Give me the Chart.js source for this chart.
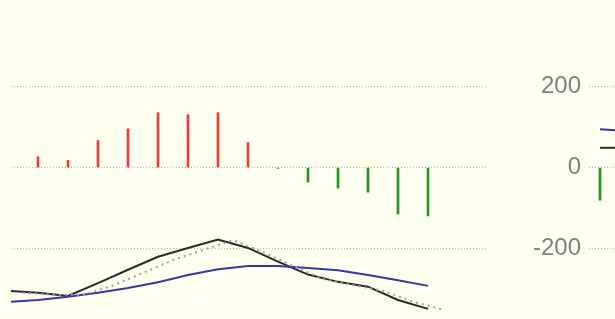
<!DOCTYPE html>
<html>
<head>
<meta charset="utf-8">
<script src="https://cdn.jsdelivr.net/npm/chart.js@4/dist/chart.umd.min.js"></script>
<style>
  html, body { margin: 0; padding: 0; background: #fffff0; }
  #wrap { position: relative; width: 615px; height: 319px; overflow: hidden; }
  #left { position: absolute; left: 0; top: 0; }
  #right { position: absolute; left: 589px; top: 0; }
</style>
</head>
<body>
<div id="wrap">
  <canvas id="left" width="581" height="319"></canvas>
  <canvas id="right" width="26" height="319"></canvas>
</div>
<script>
// histogram bars, index 0..13
const histValues = [27, 18, 67, 96, 136, 131, 136, 62, -2, -36, -51, -61, -115, -120];
// lines, index -1..13
const macdValues = [-305, -310, -318, -286, -253, -221, -199, -178, -199, -233, -265, -283, -295, -328, -350];
const signalValues = [-333, -328, -320, -310, -298, -284, -266, -252, -244, -244, -249, -254, -266, -279, -293];
// dotted line, index -0.5..13.5
const dottedValues = [-310, -315, -315, -292, -261, -229, -204, -180, -209, -244, -276, -291, -305, -332, -352];
const tickLabels = [200, 0, -200];

// second panel
const histValues2 = [-81];
const macdValues2 = [49, 49];
const signalValues2 = [95, 90];

const yMin = -375, yMax = 415;

function pts(values, start) {
    return values.map((v, i) => ({ x: start + i, y: v }));
}

function yAxis(width) {
    return {
        position: 'right',
        display: true,
        min: yMin,
        max: yMax,
        afterBuildTicks: axis => { axis.ticks = tickLabels.map(v => ({ value: v })); },
        afterFit: axis => {
            axis.width = width;
            axis.paddingTop = 0;
            axis.paddingBottom = 0;
        },
        ticks: {
            display: width > 0,
            color: '#808080',
            crossAlign: 'far',
            padding: 0,
            font: { family: 'Liberation Sans', size: 24 }
        },
        grid: { color: '#b4b4b4', lineWidth: 1, drawTicks: false },
        border: { display: false, dash: [1, 2] }
    };
}

function barColors(values) {
    return values.map(v => v >= 0 ? '#f03a3a' : '#22962a');
}

function common(padLeft) {
    return {
        responsive: false,
        animation: false,
        events: [],
        layout: { padding: { left: padLeft, right: 0, top: 0, bottom: 0 } },
        plugins: { legend: { display: false }, tooltip: { enabled: false } }
    };
}

// ================================
// LEFT PANEL
// ================================
new Chart(document.getElementById('left').getContext('2d'), {
    type: 'bar',
    data: {
        datasets: [{
            type: 'line',
            data: pts(dottedValues, -0.5),
            borderColor: '#a0a0a0',
            borderWidth: 2,
            borderDash: [2, 4],
            pointRadius: 0,
            tension: 0
        }, {
            type: 'line',
            data: pts(signalValues, -1),
            borderColor: '#3535b0',
            borderWidth: 2,
            pointRadius: 0,
            tension: 0
        }, {
            type: 'line',
            data: pts(macdValues, -1),
            borderColor: '#2a2a2a',
            borderWidth: 2,
            pointRadius: 0,
            tension: 0
        }, {
            data: pts(histValues, 0),
            backgroundColor: barColors(histValues),
            barThickness: 2
        }]
    },
    options: Object.assign(common(11), {
        scales: {
            x: { type: 'linear', display: false, offset: false, min: -0.9, max: 15 },
            y: yAxis(93)
        }
    })
});

// ================================
// RIGHT PANEL
// ================================
new Chart(document.getElementById('right').getContext('2d'), {
    type: 'bar',
    data: {
        datasets: [{
            type: 'line',
            data: pts(signalValues2, 0),
            borderColor: '#3535b0',
            borderWidth: 2,
            pointRadius: 0,
            tension: 0
        }, {
            type: 'line',
            data: pts(macdValues2, 0),
            borderColor: '#2a2a2a',
            borderWidth: 2,
            pointRadius: 0,
            tension: 0
        }, {
            data: pts(histValues2, 0),
            backgroundColor: barColors(histValues2),
            barThickness: 2
        }]
    },
    options: Object.assign(common(0), {
        scales: {
            x: { type: 'linear', display: false, offset: false, min: -11 / 30, max: 15 / 30 },
            y: yAxis(0)
        }
    })
});
</script>
</body>
</html>
